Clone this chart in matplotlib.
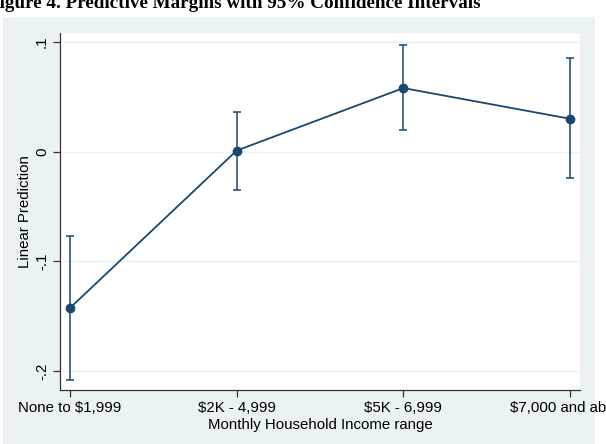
import numpy as np
import matplotlib
matplotlib.use('Agg')
import matplotlib.pyplot as plt
from matplotlib.patches import Rectangle

# Data
categories = ['None to $1,999', '$2K - 4,999', '$5K - 6,999', '$7,000 and above']
margins = [-0.1425, 0.001, 0.058, 0.030]
ci_low = [-0.208, -0.0345, 0.020, -0.024]
ci_high = [-0.0765, 0.036, 0.097, 0.085]

navy = '#1a476f'
bg = '#eaf2f3'

plt.rcParams['font.family'] = ['Liberation Sans', 'DejaVu Sans']

fig = plt.figure(figsize=(6.06, 4.44), dpi=100)
fig.patch.set_facecolor('white')

# graph region background (light blue, Stata s2color style)
fig.patches.append(Rectangle((3 / 606, 0), 592 / 606, 427 / 444,
                             transform=fig.transFigure, facecolor=bg,
                             edgecolor='none', zorder=-10))

ax = fig.add_axes([60 / 606, 1 - 390 / 444, 520 / 606, 357 / 444])
ax.set_facecolor('white')

x = np.arange(1, len(categories) + 1)
m = np.array(margins)
lo = np.array(ci_low)
hi = np.array(ci_high)

ax.errorbar(x, m, yerr=[m - lo, hi - m], fmt='none', ecolor=navy,
            elinewidth=1.1, capsize=2.8, capthick=1.1, zorder=3)
ax.plot(x, m, color=navy, lw=1.3, marker='o', markersize=6, zorder=4)

ax.set_xlim(0.94, 4.06)
ax.set_ylim(-0.2173, 0.1082)
ax.set_xticks(x)
ax.set_xticklabels(categories, fontsize=10.8)
ax.set_yticks([-0.2, -0.1, 0, 0.1])
ax.set_yticklabels(['-.2', '-.1', '0', '.1'], fontsize=10.8, rotation=90,
                   va='center')
ax.yaxis.grid(True, color=bg, lw=1)
ax.set_axisbelow(True)

for s in ['top', 'right']:
    ax.spines[s].set_visible(False)
for s in ['left', 'bottom']:
    ax.spines[s].set_color('#333333')
    ax.spines[s].set_linewidth(0.9)
ax.tick_params(length=5, width=0.9, color='#333333', pad=3)

ax.set_xlabel('Monthly Household Income range', fontsize=10.8, labelpad=2)
ax.set_ylabel('Linear Prediction', fontsize=10.8, labelpad=2)

fig.text(-0.02, 1 - 8 / 444, 'Figure 4. Predictive Margins with 95% Confidence Intervals',
         fontsize=13.8, fontweight='bold', family=['Liberation Serif'],
         va='baseline', ha='left')

fig.savefig('out.png', dpi=100)
